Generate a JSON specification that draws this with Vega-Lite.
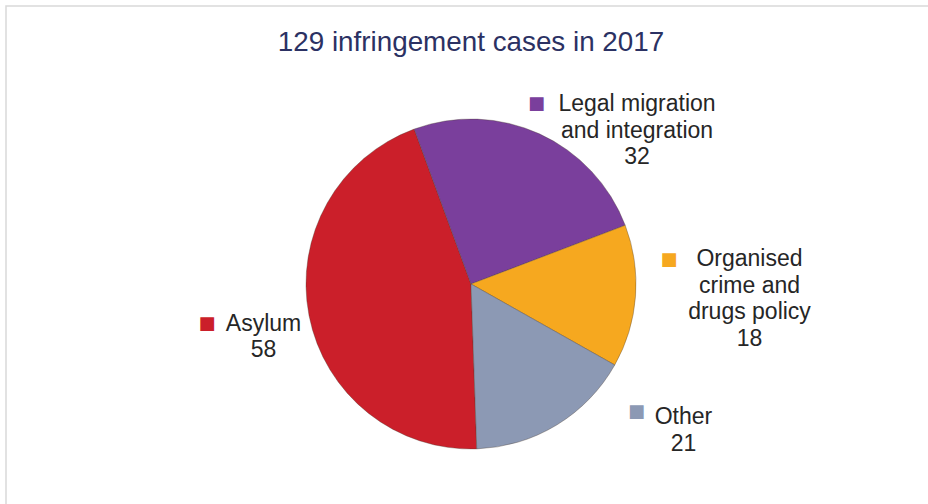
{
  "$schema": "https://vega.github.io/schema/vega-lite/v6.json",
  "autosize": "none",
  "padding": {"left": 6, "top": 6, "right": 0, "bottom": 0},
  "width": 930,
  "height": 556,
  "background": "white",
  "view": {"stroke": "#D9D9D9", "strokeWidth": 1.5},
  "title": {
    "text": "129 infringement cases in 2017",
    "anchor": "middle",
    "offset": -73,
    "baseline": "alphabetic",
    "font": "Liberation Sans",
    "fontSize": 27.8,
    "fontWeight": "normal",
    "color": "#2B3163"
  },
  "data": {
    "values": [
      {"category": "Asylum", "value": 58, "label": "Asylum\n58"},
      {"category": "Legal migration and integration", "value": 32, "label": "Legal migration\nand integration\n32"},
      {"category": "Organised crime and drugs policy", "value": 18, "label": "Organised\ncrime and\ndrugs policy\n18"},
      {"category": "Other", "value": 21, "label": "Other\n21"}
    ]
  },
  "encoding": {
    "color": {
      "field": "category",
      "type": "nominal",
      "legend": null,
      "scale": {
        "domain": ["Asylum", "Legal migration and integration", "Organised crime and drugs policy", "Other"],
        "range": ["#CB1F2A", "#7A3F9C", "#F6A81F", "#8C99B4"]
      }
    }
  },
  "layer": [
    {
      "mark": {"type": "arc", "outerRadius": 165, "stroke": "#4a3a30", "strokeWidth": 0.6, "strokeOpacity": 0.6},
      "encoding": {
        "theta": {"field": "value", "type": "quantitative", "stack": true, "scale": {"range": [3.1067, 9.3899]}}
      }
    },
    {
      "transform": [{"filter": "datum.category === 'Legal migration and integration'"}],
      "layer": [
        {"mark": {"type": "text", "lineBreak": "\n", "lineHeight": 26.7, "font": "Liberation Sans", "fontSize": 23, "align": "center", "baseline": "middle", "dx": 166, "dy": -180},
         "encoding": {"text": {"field": "label"}, "color": {"value": "#262626"}}},
        {"mark": {"type": "text", "font": "DejaVu Sans", "fontSize": 18, "align": "center", "baseline": "middle", "dx": 65.5, "dy": -180},
         "encoding": {"text": {"value": "■"}}}
      ]
    },
    {
      "transform": [{"filter": "datum.category === 'Organised crime and drugs policy'"}],
      "layer": [
        {"mark": {"type": "text", "lineBreak": "\n", "lineHeight": 26.7, "font": "Liberation Sans", "fontSize": 23, "align": "center", "baseline": "middle", "dx": 278.5, "dy": -25},
         "encoding": {"text": {"field": "label"}, "color": {"value": "#262626"}}},
        {"mark": {"type": "text", "font": "DejaVu Sans", "fontSize": 18, "align": "center", "baseline": "middle", "dx": 198, "dy": -24},
         "encoding": {"text": {"value": "■"}}}
      ]
    },
    {
      "transform": [{"filter": "datum.category === 'Other'"}],
      "layer": [
        {"mark": {"type": "text", "lineBreak": "\n", "lineHeight": 26.7, "font": "Liberation Sans", "fontSize": 23, "align": "center", "baseline": "middle", "dx": 212.5, "dy": 133},
         "encoding": {"text": {"field": "label"}, "color": {"value": "#262626"}}},
        {"mark": {"type": "text", "font": "DejaVu Sans", "fontSize": 18, "align": "center", "baseline": "middle", "dx": 165.5, "dy": 127.5},
         "encoding": {"text": {"value": "■"}}}
      ]
    },
    {
      "transform": [{"filter": "datum.category === 'Asylum'"}],
      "layer": [
        {"mark": {"type": "text", "lineBreak": "\n", "lineHeight": 26.7, "font": "Liberation Sans", "fontSize": 23, "align": "center", "baseline": "middle", "dx": -207.5, "dy": 39.5},
         "encoding": {"text": {"field": "label"}, "color": {"value": "#262626"}}},
        {"mark": {"type": "text", "font": "DejaVu Sans", "fontSize": 18, "align": "center", "baseline": "middle", "dx": -264, "dy": 39.5},
         "encoding": {"text": {"value": "■"}}}
      ]
    }
  ]
}
